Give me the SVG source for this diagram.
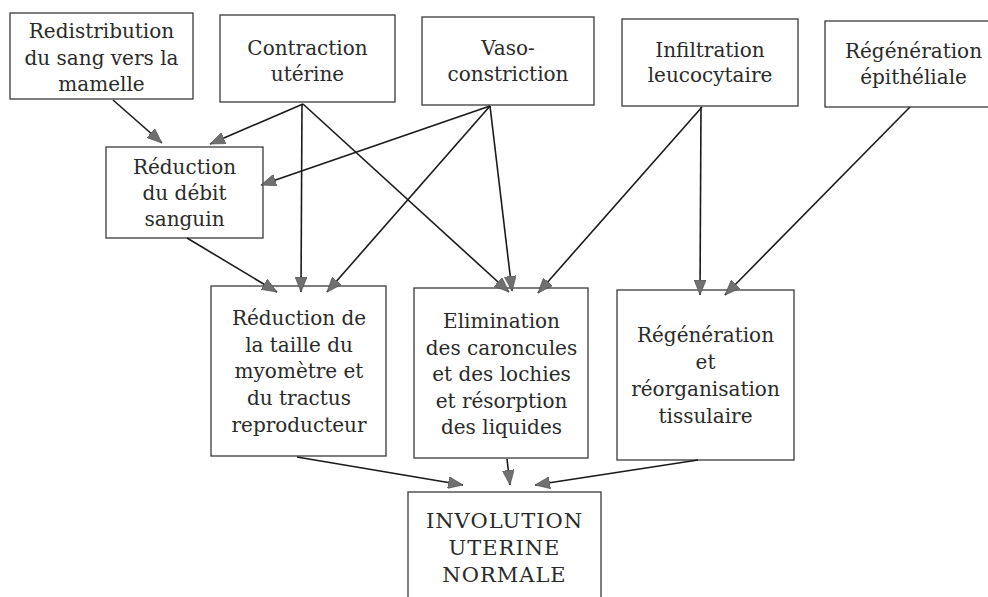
<svg xmlns="http://www.w3.org/2000/svg" width="988" height="597" viewBox="0 0 988 597">
  <defs>
    <style>
      .box { fill: #ffffff; stroke: #3a3a3a; stroke-width: 1.3; }
      .lbl { font-family: "DejaVu Serif", "Liberation Serif", serif; font-size: 20px; fill: #2a2a2a; text-anchor: middle; }
      .caps { font-size: 21px; letter-spacing: 1px; }
      .edge { stroke: #1a1a1a; stroke-width: 1.6; fill: none; marker-end: url(#head); }
    </style>
    <marker id="head" viewBox="0 0 15 12" refX="15" refY="6" markerWidth="15" markerHeight="12" markerUnits="userSpaceOnUse" orient="auto">
      <path d="M0,0 L15,6 L0,12 Z" fill="#707070" stroke="#4a4a4a" stroke-width="0.6"/>
    </marker>
  </defs>

  <rect width="988" height="597" fill="#ffffff"/>

  <!-- top row: causes -->
  <g id="redistribution">
    <rect class="box" x="10" y="13" width="183" height="86"/>
    <text class="lbl" x="101.5" y="38">Redistribution</text>
    <text class="lbl" x="101.5" y="64.5">du sang vers la</text>
    <text class="lbl" x="101.5" y="91">mamelle</text>
  </g>
  <g id="contraction">
    <rect class="box" x="220" y="15" width="175" height="87"/>
    <text class="lbl" x="307.5" y="55">Contraction</text>
    <text class="lbl" x="307.5" y="81">utérine</text>
  </g>
  <g id="vasoconstriction">
    <rect class="box" x="422" y="17" width="172" height="88"/>
    <text class="lbl" x="508" y="55">Vaso-</text>
    <text class="lbl" x="508" y="81">constriction</text>
  </g>
  <g id="infiltration">
    <rect class="box" x="622" y="19" width="176" height="87"/>
    <text class="lbl" x="710" y="57">Infiltration</text>
    <text class="lbl" x="710" y="82">leucocytaire</text>
  </g>
  <g id="regeneration-epitheliale">
    <rect class="box" x="825" y="21" width="177" height="86"/>
    <text class="lbl" x="913.5" y="58">Régénération</text>
    <text class="lbl" x="913.5" y="84">épithéliale</text>
  </g>

  <!-- intermediate node -->
  <g id="reduction-debit">
    <rect class="box" x="106" y="147" width="157" height="91"/>
    <text class="lbl" x="184.5" y="174">Réduction</text>
    <text class="lbl" x="184.5" y="200">du débit</text>
    <text class="lbl" x="184.5" y="226">sanguin</text>
  </g>

  <!-- effects -->
  <g id="reduction-taille">
    <rect class="box" x="211" y="286" width="175" height="170"/>
    <text class="lbl" x="299" y="325">Réduction de</text>
    <text class="lbl" x="299" y="352">la taille du</text>
    <text class="lbl" x="299" y="378">myomètre et</text>
    <text class="lbl" x="299" y="405">du tractus</text>
    <text class="lbl" x="299" y="432">reproducteur</text>
  </g>
  <g id="elimination">
    <rect class="box" x="414" y="288" width="174" height="170"/>
    <text class="lbl" x="501.5" y="328">Elimination</text>
    <text class="lbl" x="501.5" y="354.5">des caroncules</text>
    <text class="lbl" x="501.5" y="381">et des lochies</text>
    <text class="lbl" x="501.5" y="407.5">et résorption</text>
    <text class="lbl" x="501.5" y="434">des liquides</text>
  </g>
  <g id="regeneration-tissulaire">
    <rect class="box" x="617" y="290" width="177" height="170"/>
    <text class="lbl" x="705.5" y="342">Régénération</text>
    <text class="lbl" x="705.5" y="369">et</text>
    <text class="lbl" x="705.5" y="396">réorganisation</text>
    <text class="lbl" x="705.5" y="423">tissulaire</text>
  </g>

  <!-- outcome -->
  <g id="involution">
    <rect class="box" x="408" y="492" width="193" height="120"/>
    <text class="lbl caps" x="504.5" y="528">INVOLUTION</text>
    <text class="lbl caps" x="504.5" y="555">UTERINE</text>
    <text class="lbl caps" x="504.5" y="582">NORMALE</text>
  </g>

  <!-- connectors -->
  <g id="connectors">
    <line class="edge" x1="113" y1="100" x2="162" y2="143"/>
    <line class="edge" x1="303" y1="104" x2="210" y2="144"/>
    <line class="edge" x1="302" y1="104" x2="301" y2="292"/>
    <line class="edge" x1="303" y1="104" x2="509" y2="292"/>
    <line class="edge" x1="490" y1="106" x2="261" y2="185"/>
    <line class="edge" x1="490" y1="106" x2="327" y2="292"/>
    <line class="edge" x1="490" y1="106" x2="512" y2="291"/>
    <line class="edge" x1="702" y1="107" x2="538" y2="293"/>
    <line class="edge" x1="701" y1="107" x2="700" y2="295"/>
    <line class="edge" x1="910" y1="107" x2="725" y2="295"/>
    <line class="edge" x1="187" y1="238" x2="277" y2="292"/>
    <line class="edge" x1="297" y1="457" x2="463" y2="485"/>
    <line class="edge" x1="507" y1="459" x2="510" y2="485"/>
    <line class="edge" x1="698" y1="460" x2="535" y2="485"/>
  </g>
</svg>
